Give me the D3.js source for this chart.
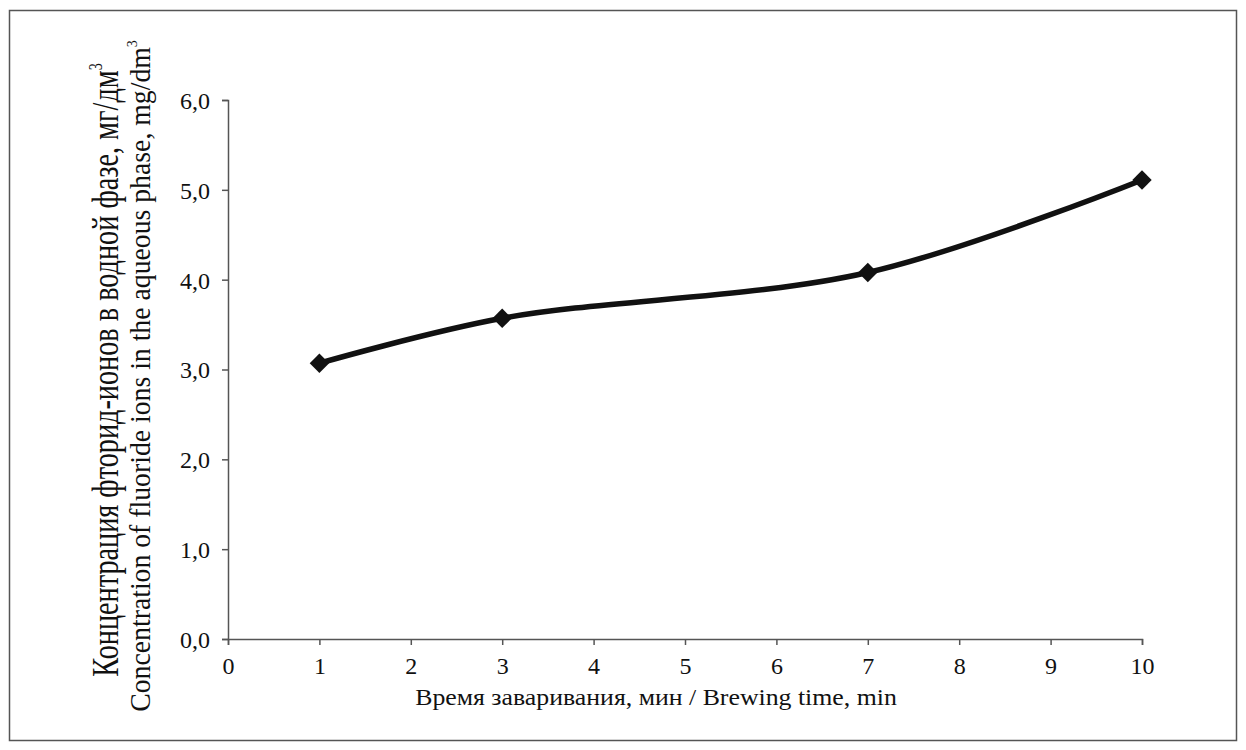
<!DOCTYPE html>
<html>
<head>
<meta charset="utf-8">
<script src="https://cdn.jsdelivr.net/npm/d3@7"></script>
<style>
  body { margin: 0; background: #fff; }
  svg text { font-family: "Liberation Serif", "Times New Roman", Times, serif; fill: #111; }
</style>
</head>
<body>
<div id="chart-area"></div>
<script>
// brewing time, min
var times = [1, 3, 7, 10];
// fluoride concentration, mg/dm3
var conc = [3.07, 3.57, 4.08, 5.11];
var xTicks = [0, 1, 2, 3, 4, 5, 6, 7, 8, 9, 10];
var yTicks = [0, 1, 2, 3, 4, 5, 6];

var W = 1246, H = 750;
var margin = {top: 100, right: 104, bottom: 111, left: 228};
var width = W - margin.left - margin.right;
var height = H - margin.top - margin.bottom;

var data = times.map((t, i) => ({t: t, c: conc[i]}));

var svg = d3.select("#chart-area").append("svg")
  .attr("width", W)
  .attr("height", H);

svg.append("rect")
  .attr("x", 9.5).attr("y", 10.5)
  .attr("width", 1227).attr("height", 730)
  .attr("fill", "none")
  .attr("stroke", "#555")
  .attr("stroke-width", 1.5);

var g = svg.append("g")
  .attr("transform", "translate(" + margin.left + "," + margin.top + ")");

var x = d3.scaleLinear().domain([0, 10]).range([0, width]);
var y = d3.scaleLinear().domain([0, 6]).range([height, 0]);

var fmt = d => d.toFixed(1).replace(".", ",");

var xAxis = g.append("g")
  .attr("transform", "translate(0," + height + ")")
  .call(d3.axisBottom(x).tickValues(xTicks).tickSize(6).tickPadding(12).tickFormat(d3.format("d")));

var yAxis = g.append("g")
  .call(d3.axisLeft(y).tickValues(yTicks).tickSize(6).tickPadding(12).tickFormat(fmt));

[xAxis, yAxis].forEach(a => {
  a.attr("font-family", null).attr("font-size", null);
  a.select(".domain").attr("stroke", "#555").attr("stroke-width", 1.5);
  a.selectAll(".tick line").attr("stroke", "#555").attr("stroke-width", 1.5);
  a.selectAll(".tick text")
    .attr("font-size", "24px")
    .attr("fill", "#111");
});
yAxis.selectAll(".tick text").attr("dy", "0.35em");

var line = d3.line()
  .x(d => x(d.t))
  .y(d => y(d.c))
  .curve(d3.curveCatmullRom.alpha(0.5));

g.append("path")
  .datum(data)
  .attr("fill", "none")
  .attr("stroke", "#111")
  .attr("stroke-width", 5.5)
  .attr("d", line);

g.selectAll(".marker")
  .data(data)
  .enter().append("path")
  .attr("class", "marker")
  .attr("transform", d => "translate(" + x(d.t) + "," + y(d.c) + ")")
  .attr("d", d3.symbol().type(d3.symbolDiamond2).size(240))
  .attr("fill", "#111");

// fit a text element to a given length along its direction
function fit(sel, len) {
  var w = sel.node().getBBox().width;
  return len / w;
}

// x axis title
var xt = svg.append("text")
  .attr("text-anchor", "middle")
  .attr("font-size", "24px")
  .text("Время заваривания, мин / Brewing time, min");
var sx = fit(xt, 482);
xt.attr("transform", "translate(656,705) scale(" + sx + ",1)");

// y axis title, two lines (condensed in the original)
var ylab = [
  {t: "Концентрация фторид-ионов в водной фазе, мг/дм", x: 118, size: 37, len: 614, yc: 370},
  {t: "Concentration of fluoride ions in the aqueous phase, mg/dm", x: 150, size: 30, len: 672, yc: 376}
];
ylab.forEach(l => {
  var txt = svg.append("text")
    .attr("text-anchor", "middle")
    .attr("font-size", l.size + "px");
  txt.append("tspan").text(l.t);
  txt.append("tspan").attr("dy", -l.size * 0.42).attr("font-size", (l.size * 0.5) + "px").text("3");
  var s = fit(txt, l.len);
  txt.attr("transform", "translate(" + l.x + "," + l.yc + ") rotate(-90) scale(" + s + ",1)");
});
</script>
</body>
</html>
